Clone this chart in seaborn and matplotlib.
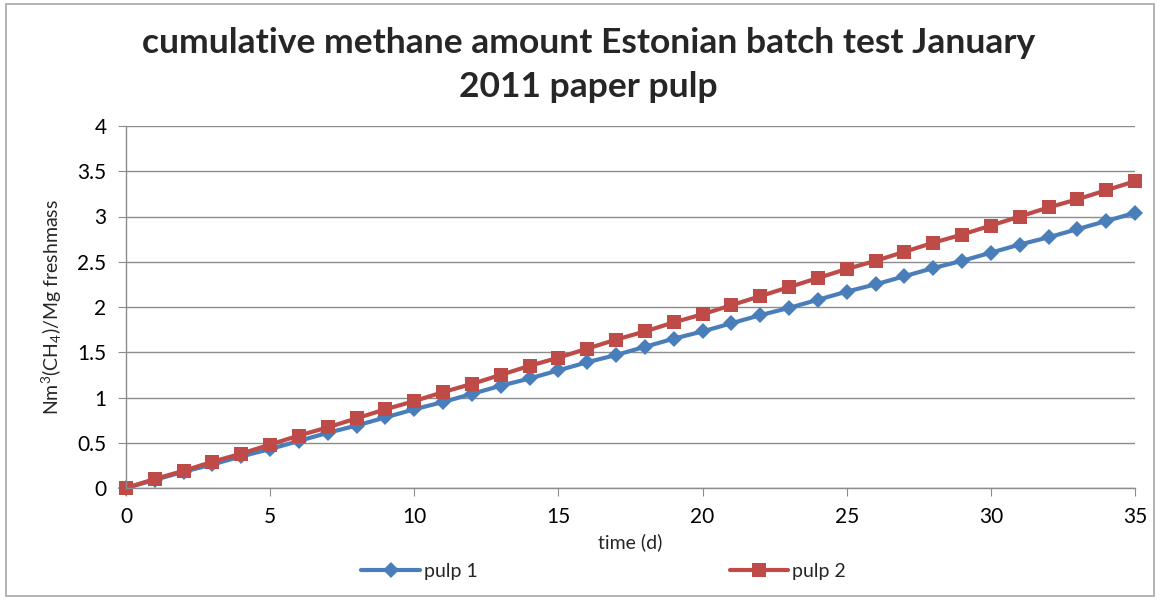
import matplotlib
matplotlib.use("Agg")
import matplotlib.pyplot as plt
import seaborn as sns
import pandas as pd
from matplotlib.patches import Rectangle

# values
days = list(range(36))
pulp1 = [0, 0.09, 0.18, 0.26, 0.35, 0.43, 0.52, 0.61, 0.69, 0.78, 0.87, 0.95,
         1.04, 1.13, 1.21, 1.30, 1.39, 1.47, 1.56, 1.65, 1.73, 1.82, 1.91, 1.99,
         2.08, 2.17, 2.25, 2.34, 2.43, 2.51, 2.60, 2.69, 2.77, 2.86, 2.95, 3.04]
pulp2 = [0, 0.10, 0.19, 0.29, 0.38, 0.48, 0.58, 0.67, 0.77, 0.87, 0.96, 1.06,
         1.15, 1.25, 1.35, 1.44, 1.54, 1.64, 1.73, 1.83, 1.92, 2.02, 2.12, 2.22,
         2.32, 2.42, 2.51, 2.61, 2.71, 2.80, 2.90, 3.00, 3.10, 3.19, 3.29, 3.39]
series_names = ["pulp 1", "pulp 2"]

sns.set_style("white")
plt.rcParams['font.family'] = ['Lato', 'DejaVu Sans']
plt.rcParams['mathtext.fontset'] = 'custom'
plt.rcParams['mathtext.rm'] = 'Lato'
plt.rcParams['mathtext.it'] = 'Lato'

data = pd.DataFrame({
    'time': days + days,
    'value': pulp1 + pulp2,
    'series': [series_names[0]] * len(days) + [series_names[1]] * len(days),
})

fig = plt.figure(figsize=(11.61, 6.0), dpi=100)
ax = fig.add_axes([126 / 1161, 1 - 488 / 600, (1135 - 126) / 1161, (488 - 126) / 600])

colors = {"pulp 1": "#4A7EBB", "pulp 2": "#BE4B48"}
markers = {"pulp 1": "D", "pulp 2": "s"}
sizes = {"pulp 1": 8.5, "pulp 2": 10.5}
for name in series_names:
    sub = data[data['series'] == name]
    sns.lineplot(data=sub, x='time', y='value', ax=ax, color=colors[name],
                 marker=markers[name], markersize=sizes[name], markeredgewidth=0,
                 linewidth=3, label=name, legend=False)

ax.set_xlim(0, 35)
ax.set_ylim(0, 4)
ax.set_xticks(range(0, 36, 5))
ax.set_yticks([0, 0.5, 1, 1.5, 2, 2.5, 3, 3.5, 4])
ax.set_yticklabels(['0', '0.5', '1', '1.5', '2', '2.5', '3', '3.5', '4'])
ax.yaxis.grid(True, color='#8c8c8c', linewidth=1)
ax.xaxis.grid(False)
for side in ['top', 'right']:
    ax.spines[side].set_visible(False)
for side in ['left', 'bottom']:
    ax.spines[side].set_color('#8c8c8c')
    ax.spines[side].set_linewidth(1)
ax.tick_params(axis='both', labelsize=15, colors='#8c8c8c', labelcolor='black',
               length=6, direction='out', left=True, bottom=True)
ax.tick_params(axis='y', pad=8)
ax.tick_params(axis='x', pad=8)
ax.set_xlabel('time (d)', fontsize=14, labelpad=4)
ax.set_ylabel(r'Nm$^{3}$(CH$_{4}$)/Mg freshmass', fontsize=14, labelpad=10)
for artist in ax.lines:
    artist.set_clip_on(False)

fig.suptitle('cumulative methane amount Estonian batch test January\n2011 paper pulp',
             x=0.507, y=0.955, fontsize=25.5, fontweight='bold', linespacing=1.45)

handles, labels = ax.get_legend_handles_labels()
fig.legend(handles, labels, loc='center', bbox_to_anchor=(0.52, 0.047), ncol=2,
           frameon=False, fontsize=14, columnspacing=13, handlelength=3,
           handletextpad=0.2)

fig.patches.append(Rectangle((6 / 1161, 4 / 600), 1148 / 1161, 592 / 600,
                             transform=fig.transFigure, fill=False,
                             edgecolor='#a6a6a6', linewidth=1.2))

fig.savefig('out.png', dpi=100)
